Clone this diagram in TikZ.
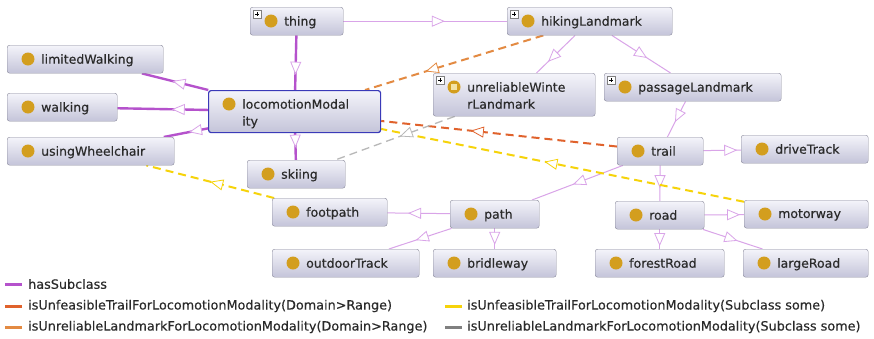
\documentclass[tikz,border=0pt]{standalone}
\usepackage{fontspec}
\setmainfont{DejaVu Sans}
\newfontfamily\clsfont{DejaVu Sans}[FakeBold=0.35]
\usetikzlibrary{arrows.meta,decorations.markings,calc,backgrounds}
\definecolor{boxtop}{HTML}{F4F4FA}
\definecolor{boxbot}{HTML}{C4C4D9}
\definecolor{boxedge}{HTML}{8A8A9C}
\definecolor{selblue}{HTML}{3A3AB8}
\definecolor{icongold}{HTML}{D39E1E}
\definecolor{defsq}{HTML}{F2E2A6}
\definecolor{subdark}{HTML}{B552CC}
\definecolor{sublight}{HTML}{D9A4E8}
\definecolor{unfdom}{HTML}{E0622C}
\definecolor{unrdom}{HTML}{E38A42}
\definecolor{unfsub}{HTML}{F6D30A}
\definecolor{unrsub}{HTML}{B8B8B8}
\definecolor{txt}{HTML}{2A2A2A}
\tikzset{
  cls/.style={draw=boxedge,rounded corners=2.5pt,top color=boxtop,bottom color=boxbot,minimum height=28,inner sep=0,anchor=north west},
  clstxt/.style={anchor=north west,inner sep=0,align=left,font=\clsfont\fontsize{12.5}{17}\selectfont,text=txt},
  lgd/.style={anchor=west,inner sep=0,font=\clsfont\fontsize{12.8}{15}\selectfont,text=txt},
  subof/.style={sublight,line width=1,postaction={decorate},
    decoration={markings,mark=at position #1 with {\arrow{Triangle[open,fill=white,color=sublight,length=13pt,width=11pt,line width=0.8pt]}}}},
  subof/.default=0.6,
  subthick/.style={subof=#1,subdark,line width=2.4},
  subthick/.default=0.6,
  rel/.style={line width=2,dash pattern=on 8pt off 5pt,postaction={decorate},
    decoration={markings,mark=at position #1 with {\arrow{Triangle[open,fill=white,length=13pt,width=11pt,line width=0.8pt]}}}},
  rel/.default=0.6,
}
% class box: [opts]{name}{x}{y}{width}{text}
\newcommand{\cls}[6][]{%
  \node[cls,minimum width=#5,#1] (#2) at (#3,#4) {};
  \fill[icongold] ($(#2.north west)+(21,14)$) circle (6.5pt);
  \node[clstxt] (#2-txt) at ($(#2.north west)+(34,9)$) {#6};}
% small expand box in the corner
\newcommand{\plusmark}[1]{%
  \draw[fill=white,draw=gray] ($(#1.north west)+(3,3)$) rectangle +(8,8);
  \draw[line width=0.7] ($(#1.north west)+(5,7)$) -- +(4,0) ($(#1.north west)+(7,5)$) -- +(0,4);}

\begin{document}
\begin{tikzpicture}[x=1pt,y=-1pt]
\useasboundingbox (0,0) rectangle (874,338);
% classes
\cls{thing}{250}{7}{93}{thing} \plusmark{thing}
\cls{hiking}{507}{7}{165}{hikingLandmark} \plusmark{hiking}
\cls{limwalk}{7}{45}{156}{limitedWalking}
\cls{walk}{7}{93}{110}{walking}
\cls[draw=selblue,line width=1.2,minimum height=42]{loco}{208}{90}{172}{locomotionModal\\ity}
\cls[minimum height=43]{unrel}{433}{73}{162}{unreliableWinte\\rLandmark} \plusmark{unrel}
\fill[defsq] ($(unrel.north west)+(18,11)$) rectangle +(6,6);
\cls{passage}{604}{73}{177}{passageLandmark} \plusmark{passage}
\cls{wheel}{7}{137}{167}{usingWheelchair}
\cls{ski}{247}{160}{98}{skiing}
\cls{trail}{617}{137}{86}{trail}
\cls{drive}{741}{135}{127}{driveTrack}
\cls{foot}{272}{198}{115}{footpath}
\cls{path}{450}{200}{89}{path}
\cls{road}{615}{201}{89}{road}
\cls{motor}{744}{200}{124}{motorway}
\cls{outdoor}{272}{249}{147}{outdoorTrack}
\cls{bridle}{433}{249}{123}{bridleway}
\cls{forest}{595}{249}{129}{forestRoad}
\cls{large}{743}{249}{125}{largeRoad}
\begin{pgfonlayer}{background}
\fill[white] (0,0) rectangle (874,338);
% hasSubclass
\draw[subthick=0.72] (thing) -- (loco);
\draw[subthick=0.54] (loco) -- (limwalk);
\draw[subthick=0.4] (loco) -- (walk);
\draw[subthick=0.43] (loco) -- (wheel);
\draw[subthick=0.54] (loco) -- (ski);
\draw[subof=0.62] (thing) -- (hiking);
\draw[subof=0.7] (hiking) -- (unrel);
\draw[subof=0.6] (hiking) -- (passage);
\draw[subof=0.58] (passage) -- (trail);
\draw[subof=0.9] (trail) -- (drive);
\draw[subof=0.64] (trail) -- (road);
\draw[subof=0.55] (trail) -- (path);
\draw[subof=0.67] (path) -- (foot);
\draw[subof=0.57] (path) -- (outdoor);
\draw[subof=0.8] (path) -- (bridle);
\draw[subof=0.9] (road) -- (motor);
\draw[subof=0.85] (road) -- (forest);
\draw[subof=0.58] (road) -- (large);
% object properties
\draw[rel=0.62,unfdom] (trail) -- (loco);
\draw[rel=0.66,unrdom] (hiking) -- (loco);
\draw[rel=0.55,unfsub] (motor) -- (loco);
\draw[rel=0.5,unfsub] (foot) -- (wheel);
\draw[rel=0.46,unrsub,line width=1.3] (unrel) -- (ski);
\end{pgfonlayer}
% legend
\node[lgd] (lg-sub) at (28,284) {hasSubclass};
\node[lgd] (lg-unfdom) at (28,306) {isUnfeasibleTrailForLocomotionModality(Domain>Range)};
\node[lgd] (lg-unrdom) at (28,327) {isUnreliableLandmarkForLocomotionModality(Domain>Range)};
\node[lgd] (lg-unfsub) at (467,306) {isUnfeasibleTrailForLocomotionModality(Subclass some)};
\node[lgd] (lg-unrsub) at (467,327) {isUnreliableLandmarkForLocomotionModality(Subclass some)};
\draw[subdark,line width=3] ([xshift=-6]lg-sub.west) -- ++(-17,0);
\draw[unfdom,line width=3] ([xshift=-6]lg-unfdom.west) -- ++(-17,0);
\draw[unrdom,line width=3] ([xshift=-6]lg-unrdom.west) -- ++(-17,0);
\draw[unfsub,line width=3] ([xshift=-5]lg-unfsub.west) -- ++(-17,0);
\draw[gray,line width=3] ([xshift=-5]lg-unrsub.west) -- ++(-17,0);
\end{tikzpicture}
\end{document}
